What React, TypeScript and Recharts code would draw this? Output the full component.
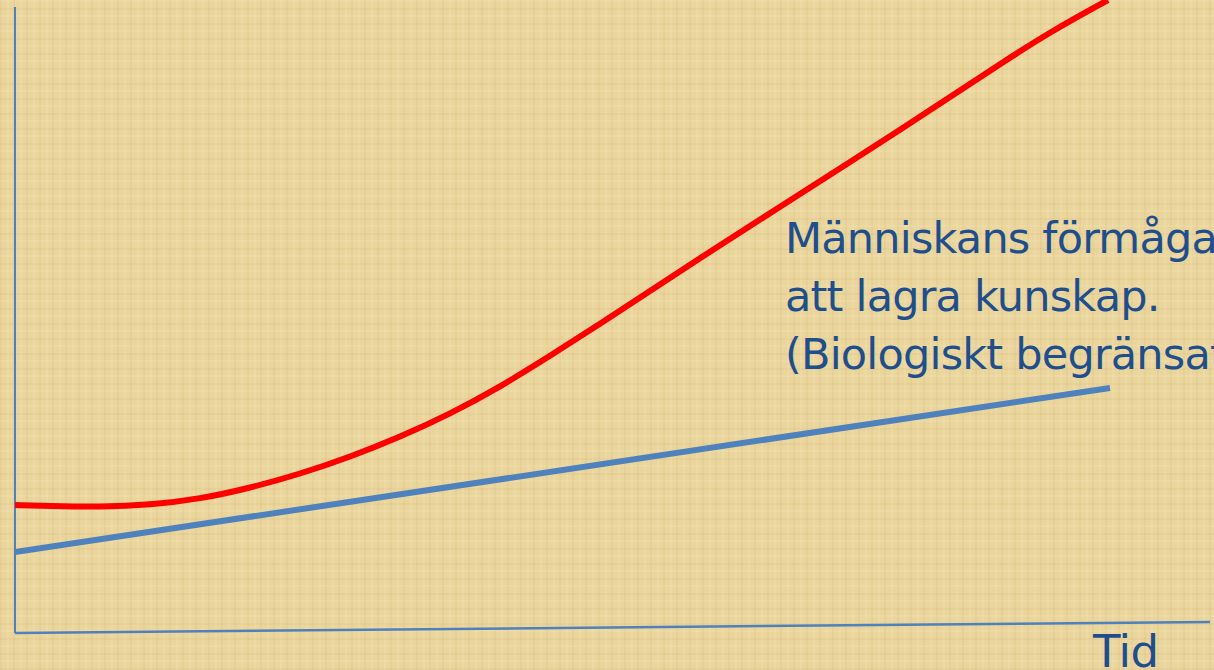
import React from "react";
import { ComposedChart, Line, XAxis, YAxis, ReferenceLine, Customized } from "recharts";

// Time (x) and level (y) values
const redTime = [0, 35, 85, 135, 185, 235, 285, 335, 385, 435, 485, 535, 585, 635, 685, 735, 785, 835, 885, 935, 985, 1035, 1093];
const redLevel = [128, 127, 126, 128, 134, 145, 159, 176, 196, 219, 246, 277, 309, 342, 375, 407, 439, 471, 503, 536, 569, 601, 633];
const blueTime = [0, 1095];
const blueLevel = [81, 245];

const labelLines = ["Människans förmåga", "att lagra kunskap.", "(Biologiskt begränsat)"];
const xAxisLabel = "Tid";

const redData = redTime.map((t, i) => ({ t, v: redLevel[i] }));
const blueData = blueTime.map((t, i) => ({ t, v: blueLevel[i] }));

const AXIS = "#4F81BD";
const TEXT = "#1F4E8C";
const FONT = "'DejaVu Sans', sans-serif";

export default function App() {
  return (
    <div
      style={{
        position: "fixed",
        left: 0,
        top: 0,
        width: 1214,
        height: 670,
        overflow: "hidden",
        background:
          "repeating-linear-gradient(90deg, rgba(190,160,90,0.10) 0px, rgba(190,160,90,0.10) 2px, rgba(0,0,0,0) 2px, rgba(0,0,0,0) 7px, rgba(255,245,210,0.12) 7px, rgba(255,245,210,0.12) 9px, rgba(0,0,0,0) 9px, rgba(0,0,0,0) 13px), repeating-linear-gradient(0deg, rgba(190,160,90,0.10) 0px, rgba(190,160,90,0.10) 2px, rgba(0,0,0,0) 2px, rgba(0,0,0,0) 8px, rgba(255,245,210,0.12) 8px, rgba(255,245,210,0.12) 10px, rgba(0,0,0,0) 10px, rgba(0,0,0,0) 15px), #EAD59D",
      }}
    >
      <ComposedChart width={1214} height={670} margin={{ top: 0, right: 0, left: 15, bottom: 37 }}>
        <XAxis type="number" dataKey="t" domain={[0, 1199]} hide allowDataOverflow />
        <YAxis type="number" dataKey="v" domain={[0, 633]} hide allowDataOverflow />
        <ReferenceLine
          segment={[{ x: 0, y: 0 }, { x: 0, y: 626 }]}
          stroke={AXIS}
          strokeWidth={2}
          ifOverflow="visible"
        />
        <ReferenceLine
          segment={[{ x: 0, y: 0 }, { x: 1195, y: 11 }]}
          stroke={AXIS}
          strokeWidth={2.5}
          ifOverflow="visible"
        />
        <Line
          data={blueData}
          dataKey="v"
          type="linear"
          stroke="#4F81BD"
          strokeWidth={6}
          dot={false}
          isAnimationActive={false}
        />
        <Line
          data={redData}
          dataKey="v"
          type="basis"
          stroke="#FF0000"
          strokeWidth={6}
          dot={false}
          isAnimationActive={false}
        />
        <Customized
          component={() => (
            <g fontFamily={FONT} fill={TEXT}>
              {labelLines.map((s, i) => (
                <text key={i} x={785} y={253 + i * 58} fontSize={43} letterSpacing={-0.8}>
                  {s}
                </text>
              ))}
              <text x={1093} y={667} fontSize={45} letterSpacing={-0.5}>
                {xAxisLabel}
              </text>
            </g>
          )}
        />
      </ComposedChart>
    </div>
  );
}
